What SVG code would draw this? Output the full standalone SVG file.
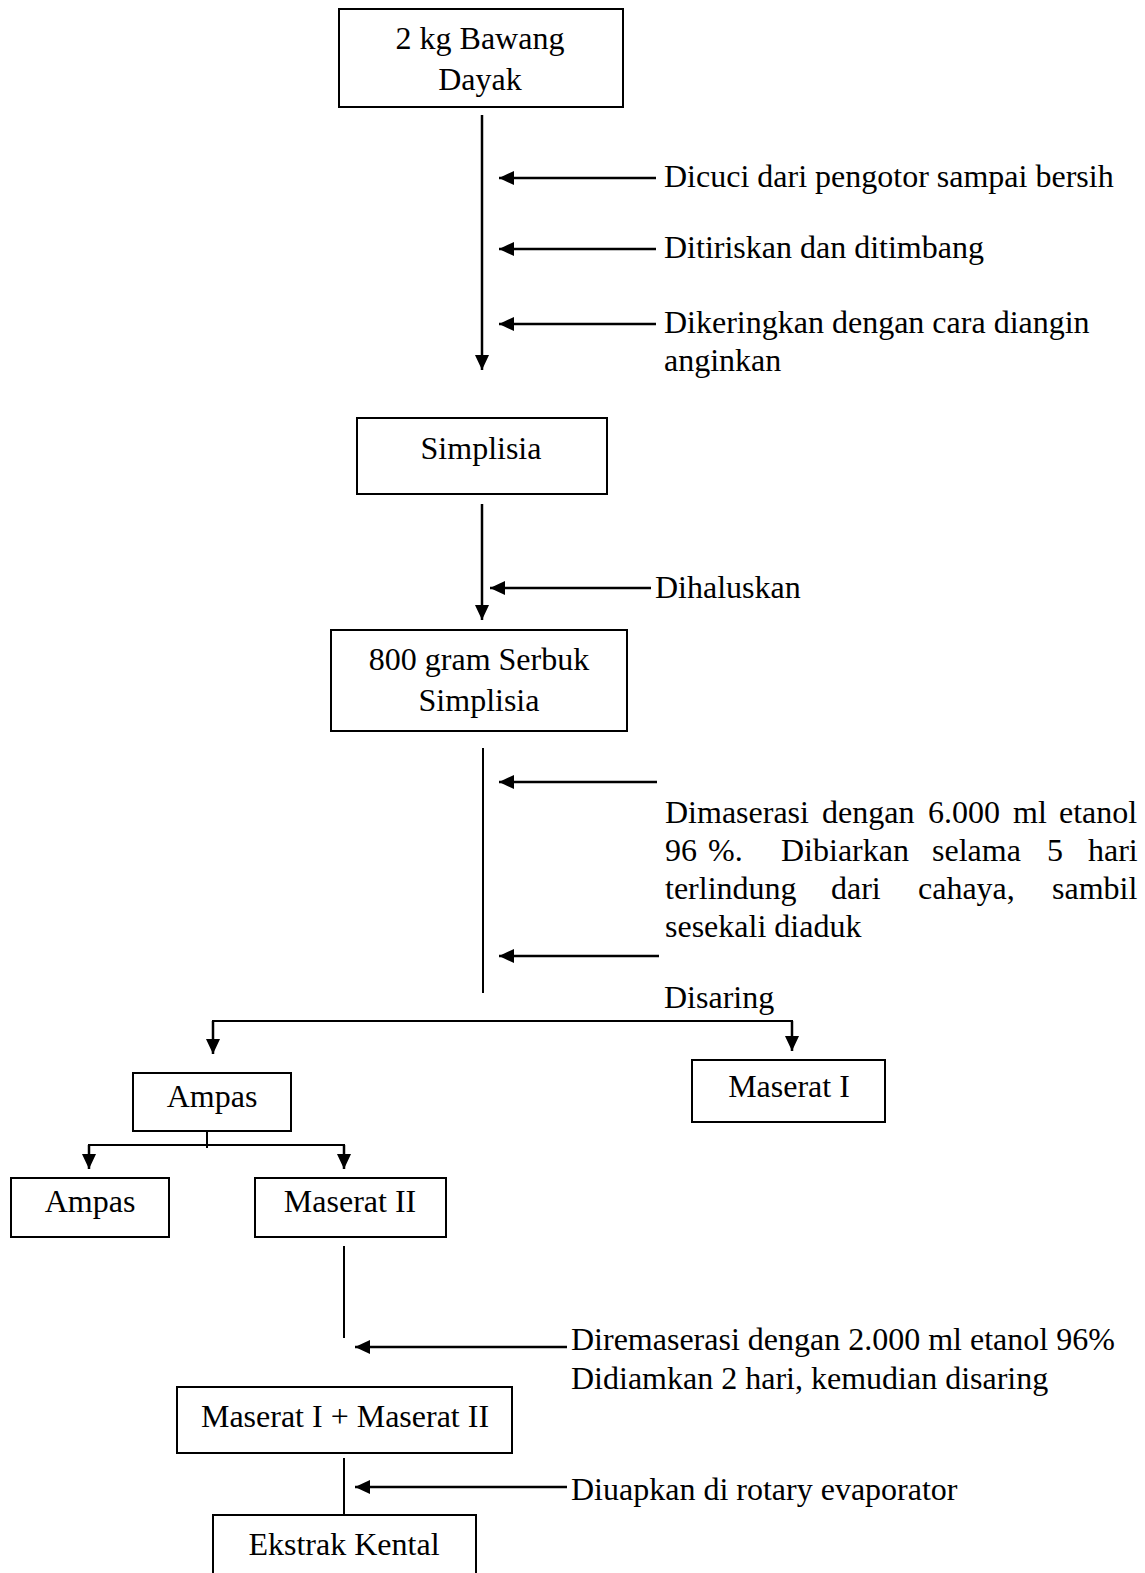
<svg xmlns="http://www.w3.org/2000/svg" width="1145" height="1573" viewBox="0 0 1145 1573">
<style>
text{font-family:"Liberation Serif","Times New Roman",serif;font-size:32px;fill:#000}
.c{text-anchor:middle}
.n{fill:#fff;stroke:#000;stroke-width:2}
line{stroke:#000;stroke-width:2}
.a{stroke-width:2.5}
</style>
<defs>
<marker id="ah" markerUnits="userSpaceOnUse" markerWidth="18" markerHeight="16" refX="15" refY="7" orient="auto">
<path d="M0,0 L15,7 L0,14 Z" fill="#000"/>
</marker>
</defs>
<rect width="1145" height="1573" fill="#fff"/>
<g id="connectors">
<line class="a" x1="482" y1="115" x2="482" y2="370" marker-end="url(#ah)"/>
<line class="a" x1="656" y1="178" x2="499" y2="178" marker-end="url(#ah)"/>
<line class="a" x1="656" y1="249" x2="499" y2="249" marker-end="url(#ah)"/>
<line class="a" x1="656" y1="324" x2="499" y2="324" marker-end="url(#ah)"/>
<line class="a" x1="482" y1="504" x2="482" y2="620" marker-end="url(#ah)"/>
<line class="a" x1="651" y1="588" x2="490" y2="588" marker-end="url(#ah)"/>
<line x1="483" y1="748" x2="483" y2="993"/>
<line class="a" x1="657" y1="782" x2="499" y2="782" marker-end="url(#ah)"/>
<line class="a" x1="659" y1="956" x2="499" y2="956" marker-end="url(#ah)"/>
<line x1="212" y1="1021" x2="793" y2="1021"/>
<line class="a" x1="213" y1="1021" x2="213" y2="1054" marker-end="url(#ah)"/>
<line class="a" x1="792" y1="1021" x2="792" y2="1051" marker-end="url(#ah)"/>
<line x1="207" y1="1131" x2="207" y2="1148"/>
<line x1="88" y1="1145" x2="345" y2="1145"/>
<line class="a" x1="89" y1="1145" x2="89" y2="1169" marker-end="url(#ah)"/>
<line class="a" x1="344" y1="1145" x2="344" y2="1169" marker-end="url(#ah)"/>
<line x1="344" y1="1246" x2="344" y2="1338"/>
<line class="a" x1="567" y1="1347" x2="355" y2="1347" marker-end="url(#ah)"/>
<line x1="344" y1="1458" x2="344" y2="1515"/>
<line class="a" x1="567" y1="1487" x2="355" y2="1487" marker-end="url(#ah)"/>
</g>
<g id="n1"><rect class="n" x="339" y="9" width="284" height="98"/><text class="c" x="480" y="49">2 kg Bawang</text><text class="c" x="480" y="90">Dayak</text></g>
<g id="l1"><text x="664" y="187">Dicuci dari pengotor sampai bersih</text></g>
<g id="l2"><text x="664" y="258">Ditiriskan dan ditimbang</text></g>
<g id="l3"><text x="664" y="333">Dikeringkan dengan cara diangin</text><text x="664" y="371">anginkan</text></g>
<g id="n2"><rect class="n" x="357" y="418" width="250" height="76"/><text class="c" x="481" y="459">Simplisia</text></g>
<g id="l4"><text x="655" y="598">Dihaluskan</text></g>
<g id="n3"><rect class="n" x="331" y="630" width="296" height="101"/><text class="c" x="479" y="670">800 gram Serbuk</text><text class="c" x="479" y="711">Simplisia</text></g>
<g id="l5">
<text y="823"><tspan x="665">Dimaserasi</tspan> <tspan x="822">dengan</tspan> <tspan x="928">6.000</tspan> <tspan x="1013">ml</tspan> <tspan x="1059">etanol</tspan></text>
<text y="861"><tspan x="665">96</tspan> <tspan x="708">%.</tspan> <tspan x="781">Dibiarkan</tspan> <tspan x="932">selama</tspan> <tspan x="1047">5</tspan> <tspan x="1088">hari</tspan></text>
<text y="899"><tspan x="665">terlindung</tspan> <tspan x="831">dari</tspan> <tspan x="918">cahaya,</tspan> <tspan x="1052">sambil</tspan></text>
<text x="665" y="937">sesekali diaduk</text>
</g>
<g id="l6"><text x="664" y="1008">Disaring</text></g>
<g id="n4"><rect class="n" x="133" y="1073" width="158" height="58"/><text class="c" x="212" y="1107">Ampas</text></g>
<g id="n5"><rect class="n" x="692" y="1060" width="193" height="62"/><text class="c" x="789" y="1097">Maserat I</text></g>
<g id="n6"><rect class="n" x="11" y="1178" width="158" height="59"/><text class="c" x="90" y="1212">Ampas</text></g>
<g id="n7"><rect class="n" x="255" y="1178" width="191" height="59"/><text class="c" x="350" y="1212">Maserat II</text></g>
<g id="l7"><text x="571" y="1350">Diremaserasi dengan 2.000 ml etanol 96%</text><text x="571" y="1389">Didiamkan 2 hari, kemudian disaring</text></g>
<g id="n8"><rect class="n" x="177" y="1387" width="335" height="66"/><text class="c" x="345" y="1427">Maserat I + Maserat II</text></g>
<g id="l8"><text x="571" y="1500">Diuapkan di rotary evaporator</text></g>
<g id="n9"><rect class="n" x="213" y="1515" width="263" height="70"/><text class="c" x="344" y="1555">Ekstrak Kental</text></g>
</svg>
